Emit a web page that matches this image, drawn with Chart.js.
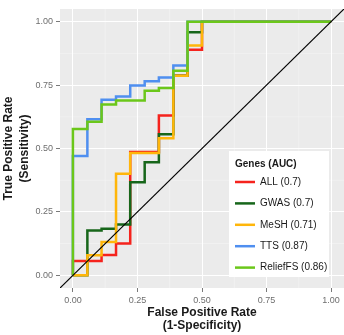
<!DOCTYPE html>
<html>
<head>
<meta charset="utf-8">
<script src="https://cdn.jsdelivr.net/npm/chart.js@4.4.1/dist/chart.umd.min.js"></script>
<style>
  html, body { margin: 0; padding: 0; background: #fff; }
  #rocChart { display: block; }
</style>
</head>
<body>
<canvas id="rocChart" width="344" height="335"></canvas>
<script>
// ROC curves (false positive rate / true positive rate)
const fprAll = [0, 0, 0.111, 0.111, 0.167, 0.167, 0.222, 0.222, 0.333, 0.333, 0.389, 0.389, 0.444, 0.444, 0.5, 0.5, 1];
const tprAll = [0, 0.056, 0.056, 0.08, 0.08, 0.125, 0.125, 0.486, 0.486, 0.63, 0.63, 0.787, 0.787, 0.889, 0.889, 1, 1];

const fprGwas = [0, 0.056, 0.056, 0.111, 0.111, 0.167, 0.167, 0.222, 0.222, 0.278, 0.278, 0.333, 0.333, 0.389, 0.389, 0.444, 0.444, 0.5, 0.5, 1];
const tprGwas = [0, 0, 0.177, 0.177, 0.184, 0.184, 0.2, 0.2, 0.367, 0.367, 0.446, 0.446, 0.556, 0.556, 0.787, 0.787, 0.958, 0.958, 1, 1];

const fprMesh = [0, 0.056, 0.056, 0.111, 0.111, 0.167, 0.167, 0.222, 0.222, 0.333, 0.333, 0.389, 0.389, 0.444, 0.444, 0.5, 0.5, 1];
const tprMesh = [0, 0, 0.079, 0.079, 0.131, 0.131, 0.4, 0.4, 0.482, 0.482, 0.54, 0.54, 0.787, 0.787, 0.906, 0.906, 1, 1];

const fprTts = [0, 0, 0.056, 0.056, 0.111, 0.111, 0.167, 0.167, 0.222, 0.222, 0.278, 0.278, 0.333, 0.333, 0.389, 0.389, 0.444, 0.444, 1];
const tprTts = [0, 0.47, 0.47, 0.615, 0.615, 0.692, 0.692, 0.705, 0.705, 0.748, 0.748, 0.765, 0.765, 0.78, 0.78, 0.827, 0.827, 1, 1];

const fprRelief = [0, 0, 0.056, 0.056, 0.111, 0.111, 0.167, 0.167, 0.278, 0.278, 0.333, 0.333, 0.389, 0.389, 0.444, 0.444, 1];
const tprRelief = [0, 0.577, 0.577, 0.605, 0.605, 0.673, 0.673, 0.689, 0.689, 0.728, 0.728, 0.739, 0.739, 0.807, 0.807, 1, 1];

// Labels
const seriesNames = ['ALL (0.7)', 'GWAS (0.7)', 'MeSH (0.71)', 'TTS (0.87)', 'ReliefFS (0.86)'];
const seriesColors = ['#f5231d', '#17661a', '#ffb60a', '#4f8ff0', '#6bc71a'];
const legendTitle = 'Genes (AUC)';
const tickValues = [0, 0.25, 0.5, 0.75, 1];
const minorValues = [0.125, 0.375, 0.625, 0.875];
const diagonal = [-0.05, 1.05];

const fontFamily = "'Liberation Sans', Arial, sans-serif";
Chart.defaults.font.family = fontFamily;

function toPoints(fpr, tpr) {
  return fpr.map((x, i) => ({ x: x, y: tpr[i] }));
}

// Grey panel with minor grid, like ggplot
const panelBg = {
  id: 'panelBg',
  beforeDraw(chart) {
    const { ctx, chartArea: a, scales } = chart;
    ctx.save();
    ctx.fillStyle = '#ebebeb';
    ctx.fillRect(a.left, a.top, a.right - a.left, a.bottom - a.top);
    ctx.strokeStyle = '#f5f5f5';
    ctx.lineWidth = 0.6;
    minorValues.forEach(v => {
      const px = scales.x.getPixelForValue(v);
      const py = scales.y.getPixelForValue(v);
      ctx.beginPath(); ctx.moveTo(px, a.top); ctx.lineTo(px, a.bottom); ctx.stroke();
      ctx.beginPath(); ctx.moveTo(a.left, py); ctx.lineTo(a.right, py); ctx.stroke();
    });
    ctx.restore();
  }
};

// Legend box inside the panel
const legendBox = {
  id: 'legendBox',
  afterDraw(chart) {
    const ctx = chart.ctx;
    ctx.save();
    ctx.fillStyle = '#ffffff';
    ctx.fillRect(229, 151, 100, 126);
    ctx.textBaseline = 'middle';
    ctx.fillStyle = '#1a1a1a';
    ctx.font = 'bold 10px ' + fontFamily;
    ctx.fillText(legendTitle, 235, 164);
    seriesNames.forEach((name, i) => {
      const y = 182 + i * 21.4;
      ctx.strokeStyle = seriesColors[i];
      ctx.lineWidth = 2.5;
      ctx.beginPath(); ctx.moveTo(235, y); ctx.lineTo(255, y); ctx.stroke();
      ctx.fillStyle = '#1a1a1a';
      ctx.font = '10px ' + fontFamily;
      ctx.fillText(name, 260, y);
    });
    ctx.restore();
  }
};

function curve(i, fpr, tpr) {
  return {
    label: seriesNames[i],
    data: toPoints(fpr, tpr),
    borderColor: seriesColors[i],
    borderWidth: 2.5,
    borderJoinStyle: 'miter',
    pointRadius: 0,
    tension: 0,
    fill: false,
    order: 5 - i
  };
}

const ctx = document.getElementById('rocChart').getContext('2d');
new Chart(ctx, {
  type: 'line',
  data: {
    datasets: [
      curve(0, fprAll, tprAll),
      curve(1, fprGwas, tprGwas),
      curve(2, fprMesh, tprMesh),
      curve(3, fprTts, tprTts),
      curve(4, fprRelief, tprRelief),
      {
        label: 'diagonal',
        data: toPoints(diagonal, diagonal),
        borderColor: '#000000',
        borderWidth: 1.2,
        pointRadius: 0,
        fill: false,
        order: 0
      }
    ]
  },
  options: {
    responsive: false,
    animation: false,
    devicePixelRatio: 1,
    layout: { padding: { top: 9, left: 0, right: 0, bottom: 0 } },
    plugins: { legend: { display: false }, tooltip: { enabled: false } },
    scales: {
      x: {
        type: 'linear',
        min: -0.05,
        max: 1.05,
        afterBuildTicks: s => { s.ticks = tickValues.map(v => ({ value: v })); },
        afterFit: s => { s.height = 47; s.paddingLeft = 0; s.paddingRight = 0; },
        border: { display: false },
        grid: { color: '#ffffff', lineWidth: 1, tickLength: 4, tickColor: '#7a7a7a' },
        ticks: { callback: v => v.toFixed(2), padding: 3, color: '#6e6e6e', font: { size: 9 }, maxRotation: 0, autoSkip: false },
        title: {
          display: true,
          text: ['False Positive Rate', '(1-Specificity)'],
          color: '#1a1a1a',
          font: { size: 12, weight: 'bold', lineHeight: 1.15 },
          padding: { top: 0, bottom: 2 }
        }
      },
      y: {
        type: 'linear',
        min: -0.05,
        max: 1.05,
        afterBuildTicks: s => { s.ticks = tickValues.map(v => ({ value: v })); },
        afterFit: s => { s.width = 60; s.paddingTop = 0; s.paddingBottom = 0; },
        border: { display: false },
        grid: { color: '#ffffff', lineWidth: 1, tickLength: 4, tickColor: '#7a7a7a' },
        ticks: { callback: v => v.toFixed(2), padding: 3, color: '#6e6e6e', font: { size: 9 }, autoSkip: false },
        title: {
          display: true,
          text: ['True Positive Rate', '(Sensitivity)'],
          color: '#1a1a1a',
          font: { size: 12, weight: 'bold', lineHeight: 1.3 },
          padding: { top: 1, bottom: 0 }
        }
      }
    }
  },
  plugins: [panelBg, legendBox]
});
</script>
</body>
</html>
